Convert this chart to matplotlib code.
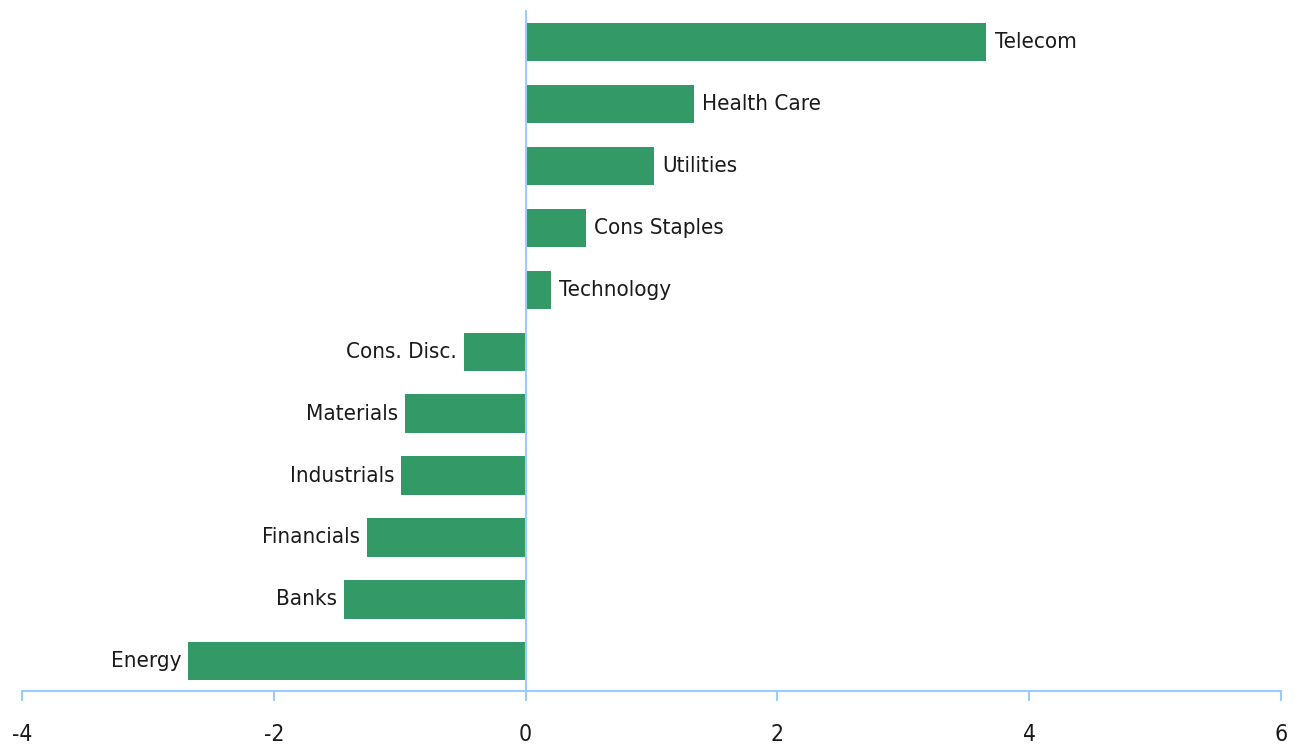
import numpy as np
import matplotlib.pyplot as plt
from matplotlib import font_manager

# Sector contributions, bottom to top
sectors = ['Energy', 'Banks', 'Financials', 'Industrials', 'Materials',
           'Cons. Disc.', 'Technology', 'Cons Staples', 'Utilities',
           'Health Care', 'Telecom']
values = [-2.68, -1.44, -1.26, -0.99, -0.96, -0.49, 0.20, 0.48, 1.02, 1.34, 3.66]

xticks = [-4, -2, 0, 2, 4, 6]

# prefer a narrow face if one is around
installed = {f.name for f in font_manager.fontManager.ttflist}
narrow = [n for n in ['Liberation Sans Narrow', 'DejaVu Sans Condensed'] if n in installed]
plt.rcParams['font.family'] = narrow + ['DejaVu Sans']
plt.rcParams['font.stretch'] = 'condensed'

bar_color = '#339966'
axis_color = '#99ccff'
text_color = '#1a1a1a'

fig = plt.figure(figsize=(13.01, 7.47), dpi=100)
ax = fig.add_axes([22 / 1301, 1 - 691 / 747, (1281 - 22) / 1301, (691 - 10) / 747])

y = np.arange(len(sectors))
ax.barh(y, values, height=0.62, color=bar_color, zorder=2)

# sector names next to the bar ends
for yi, v, name in zip(y, values, sectors):
    if v >= 0:
        ax.text(v + 0.065, yi, name, ha='left', va='center', fontsize=16,
                color=text_color, fontstretch='condensed')
    else:
        ax.text(v - 0.055, yi, name, ha='right', va='center', fontsize=16,
                color=text_color, fontstretch='condensed')

ax.set_xlim(-4, 6)
ax.set_ylim(-0.48, 10.52)
ax.axvline(0, color=axis_color, linewidth=1.5, zorder=3)

for side in ['left', 'right', 'top']:
    ax.spines[side].set_visible(False)
ax.spines['bottom'].set_color(axis_color)
ax.spines['bottom'].set_linewidth(1.5)

ax.set_yticks([])
ax.set_xticks(xticks)
ax.set_xticklabels([str(t) for t in xticks], fontsize=16.5, color=text_color)
ax.tick_params(axis='x', colors=axis_color, length=7, width=1.5, pad=16, labelcolor=text_color)

fig.savefig('out.png', dpi=100)
